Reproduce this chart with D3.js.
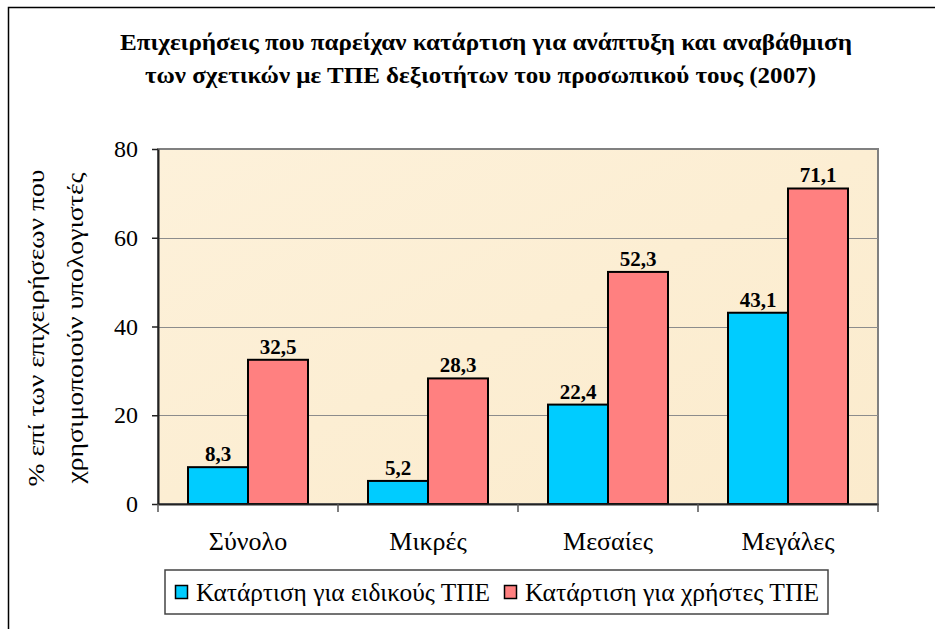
<!DOCTYPE html>
<html>
<head>
<meta charset="utf-8">
<script src="https://cdn.jsdelivr.net/npm/d3@7"></script>
</head>
<body style="margin:0; background:#fff">
<svg id="chart" width="935" height="629" style="display:block"></svg>
<script>
// data
var categories = ["Σύνολο", "Μικρές", "Μεσαίες", "Μεγάλες"];
var series_names = ["Κατάρτιση για ειδικούς ΤΠΕ", "Κατάρτιση για χρήστες ΤΠΕ"];
var specialists = [8.3, 5.2, 22.4, 43.1];
var users = [32.5, 28.3, 52.3, 71.1];
var y_ticks = [0, 20, 40, 60, 80];
var title_lines = ["Επιχειρήσεις που παρείχαν κατάρτιση για ανάπτυξη και αναβάθμιση",
                   "των σχετικών με ΤΠΕ δεξιοτήτων του προσωπικού τους  (2007)"];
var y_title = ["% επί των επιχειρήσεων που", "χρησιμοποιούν υπολογιστές"];
var colors = ["#00CCFF", "#FF8080"];

function font(sel, size, bold) {
    sel.style("font-family", "'Liberation Serif'")
       .style("font-size", size + "px")
       .style("font-weight", bold ? "bold" : "normal");
}

var svg = d3.select("#chart");
var margin = {left: 158, top: 149, right: 878, bottom: 504};

// outer frame
svg.append("path")
    .attr("d", "M8.5,640 L8.5,7.5 L940,7.5")
    .attr("fill", "none")
    .attr("stroke", "#000")
    .attr("stroke-width", 1.5);

// title
var title_pos = [[120, 50, 732], [145, 83, 671]];
svg.append("g").selectAll("text")
    .data(title_lines)
    .enter()
    .append("text")
    .attr("x", (d, i) => title_pos[i][0])
    .attr("y", (d, i) => title_pos[i][1])
    .attr("textLength", (d, i) => title_pos[i][2])
    .attr("lengthAdjust", "spacingAndGlyphs")
    .text(d => d)
    .call(font, 23, true);

var x0 = d3.scaleBand().domain(categories).range([margin.left, margin.right]);
var x1 = d3.scaleBand().domain([0, 1]).range([0, x0.bandwidth()]).paddingOuter(0.5);
var y = d3.scaleLinear().domain([0, 80]).range([margin.bottom, margin.top]);

// plot background
var defs = svg.append("defs");
var grad = defs.append("linearGradient").attr("id", "bg").attr("x1", 0).attr("y1", 0).attr("x2", 1).attr("y2", 1);
grad.append("stop").attr("offset", "0%").attr("stop-color", "#FDF1DA");
grad.append("stop").attr("offset", "50%").attr("stop-color", "#FCEED3");
grad.append("stop").attr("offset", "100%").attr("stop-color", "#FBEBCD");

svg.append("rect")
    .attr("x", margin.left)
    .attr("y", margin.top)
    .attr("width", margin.right - margin.left)
    .attr("height", margin.bottom - margin.top)
    .attr("fill", "url(#bg)")
    .attr("stroke", "#808080")
    .attr("stroke-width", 2);

// gridlines
svg.append("g").selectAll("line")
    .data(y_ticks.filter(d => d > 0 && d < 80))
    .enter()
    .append("line")
    .attr("x1", margin.left)
    .attr("x2", margin.right)
    .attr("y1", d => Math.round(y(d)) + 0.5)
    .attr("y2", d => Math.round(y(d)) + 0.5)
    .attr("stroke", "#8c8c8c")
    .attr("stroke-width", 1);

// bars
var rows = categories.map((c, i) => ({cat: c, vals: [specialists[i], users[i]]}));
var groups = svg.append("g").selectAll("g")
    .data(rows)
    .enter()
    .append("g")
    .attr("transform", d => "translate(" + x0(d.cat) + ",0)");

groups.selectAll("rect")
    .data(d => d.vals.map((v, k) => ({k: k, v: v})))
    .enter()
    .append("rect")
    .attr("x", d => x1(d.k))
    .attr("y", d => y(d.v))
    .attr("width", x1.bandwidth())
    .attr("height", d => y(0) - y(d.v))
    .attr("fill", d => colors[d.k])
    .attr("stroke", "#000")
    .attr("stroke-width", 2);

groups.selectAll("text")
    .data(d => d.vals.map((v, k) => ({k: k, v: v})))
    .enter()
    .append("text")
    .attr("x", d => x1(d.k) + x1.bandwidth() / 2)
    .attr("y", d => y(d.v) - 6)
    .attr("text-anchor", "middle")
    .text(d => d.v.toFixed(1).replace(".", ","))
    .call(font, 21, true);

// y axis
var yAxis = svg.append("g")
    .attr("transform", "translate(" + margin.left + ",0)")
    .call(d3.axisLeft(y).tickValues(y_ticks).tickSize(6).tickSizeOuter(0).tickPadding(14));
yAxis.select(".domain").attr("stroke", "#222").attr("stroke-width", 2);
yAxis.selectAll(".tick line").attr("stroke", "#222").attr("stroke-width", 1.5);
yAxis.selectAll(".tick text")
    .attr("fill", "#000")
    .call(font, 24, false);

// x axis
var xAxis = svg.append("g")
    .attr("transform", "translate(0," + margin.bottom + ")")
    .call(d3.axisBottom(x0).tickSize(0));
xAxis.select(".domain").attr("stroke", "#222").attr("stroke-width", 2);
xAxis.selectAll(".tick text")
    .attr("fill", "#000")
    .attr("y", 46)
    .attr("dy", 0)
    .call(font, 26, false);
xAxis.append("g").selectAll("line")
    .data(d3.range(categories.length + 1))
    .enter()
    .append("line")
    .attr("x1", i => margin.left + i * x0.step())
    .attr("x2", i => margin.left + i * x0.step())
    .attr("y1", 0)
    .attr("y2", 8)
    .attr("stroke", "#555")
    .attr("stroke-width", 1.5);

// y title
var y_title_x = [44, 83];
svg.append("g").selectAll("text")
    .data(y_title)
    .enter()
    .append("text")
    .attr("transform", (d, i) => "translate(" + y_title_x[i] + ",328) rotate(-90)")
    .attr("text-anchor", "middle")
    .attr("textLength", (d, i) => i == 0 ? 317 : 311)
    .attr("lengthAdjust", "spacingAndGlyphs")
    .text(d => d)
    .call(font, 24, false);

// legend
var legend = svg.append("g");
legend.append("rect")
    .attr("x", 165)
    .attr("y", 570)
    .attr("width", 663)
    .attr("height", 44)
    .attr("fill", "#fff")
    .attr("stroke", "#444")
    .attr("stroke-width", 1.5);

var legend_x = [175, 504];
series_names.forEach(function (name, k) {
    legend.append("rect")
        .attr("x", legend_x[k] + 0.5)
        .attr("y", 585.5)
        .attr("width", 12)
        .attr("height", 13)
        .attr("fill", colors[k])
        .attr("stroke", "#000")
        .attr("stroke-width", 1.5);
    legend.append("text")
        .attr("x", legend_x[k] + 21)
        .attr("y", 601)
        .attr("textLength", 294)
        .attr("lengthAdjust", "spacingAndGlyphs")
        .text(name)
        .call(font, 26, false);
});
</script>
</body>
</html>
